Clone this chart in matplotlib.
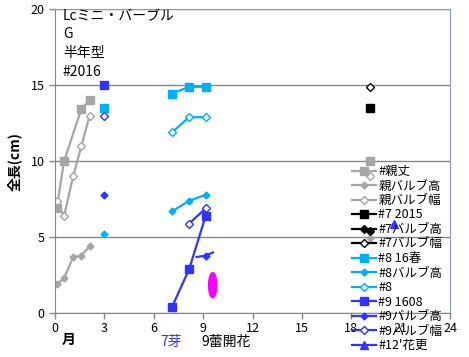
import numpy as np
import matplotlib
matplotlib.use("Agg")
import matplotlib.pyplot as plt
from matplotlib.patches import Ellipse

plt.rcParams['font.family'] = ['Noto Sans CJK JP', 'DejaVu Sans']

nan = np.nan
# parent plant
oya_x = [0.1, 0.55, 1.1, 1.6, 2.1, nan, 19.15]
oya_len_x = [0.1, 0.55, 1.6, 2.1, nan, 19.15]
oya_len_v = [6.9, 10.0, 13.45, 14.0, nan, 10.0]
oya_h = [1.9, 2.3, 3.7, 3.8, 4.4, nan, 4.95]
oya_w = [7.4, 6.4, 9.0, 11.0, 13.0, nan, 9.0]

# #7
s7_x = [19.15]
s7_len = [13.5]
s7_h = [5.4]
s7_w = [14.9]

# #8
s8_x = [3.0, nan, 7.1, 8.15, 9.15]
s8_len = [13.5, nan, 14.45, 14.9, 14.9]
s8_h = [5.2, nan, 6.7, 7.4, 7.8]
s8_w = [nan, nan, 11.9, 12.9, 12.9]

# #9
s9_len_x = [3.0, nan, 7.1, 8.15, 9.15]
s9_len = [15.0, nan, 0.4, 2.9, 6.4]
s9_h_x = [3.0, nan, 8.6, 9.15, 9.6]
s9_h = [7.8, nan, 3.7, 3.8, 4.0]
s9_w_x = [3.0, nan, 8.15, 9.15]
s9_w = [13.0, nan, 5.9, 6.9]

# #12'
s12_x = [20.6]
s12_len = [5.9]

GRAY = '#a6a6a6'
LBLUE = '#00b0f0'
BLUE = '#3333ff'

fig = plt.figure(figsize=(4.69, 3.57), dpi=100)
ax = fig.add_axes([0.1173, 0.1224, 0.8422, 0.8516])

lw = 1.6
sq = 5.5
ax.plot(oya_len_x, oya_len_v, color=GRAY, marker='s', ms=sq, lw=lw, label='#親丈')
ax.plot(oya_x, oya_h, color=GRAY, marker='D', ms=3.5, lw=lw, label='親バルブ高')
ax.plot(oya_x, oya_w, color=GRAY, marker='D', ms=4, mfc='white', lw=lw, label='親バルブ幅')
ax.plot(s7_x, s7_len, color='black', marker='s', ms=sq, lw=lw, label='#7 2015')
ax.plot(s7_x, s7_h, color='black', marker='D', ms=4, lw=lw, label='#7バルブ高')
ax.plot(s7_x, s7_w, color='black', marker='D', ms=4, mfc='white', lw=lw, label='#7バルブ幅')
ax.plot(s8_x, s8_len, color=LBLUE, marker='s', ms=sq, lw=lw, label='#8 16春')
ax.plot(s8_x, s8_h, color=LBLUE, marker='D', ms=3.5, lw=lw, label='#8バルブ高')
ax.plot(s8_x, s8_w, color=LBLUE, marker='D', ms=4, mfc='white', lw=lw, label='#8')
ax.plot(s9_len_x, s9_len, color=BLUE, marker='s', ms=sq, lw=lw, label='#9 1608')
ax.plot(s9_h_x, s9_h, color=BLUE, marker='D', ms=3.5, lw=lw, markevery=[0, 3], label='#9バルブ高')
ax.plot(s9_w_x, s9_w, color=BLUE, marker='D', ms=4, mfc='white', lw=lw, label='#9バルブ幅')
ax.plot(s12_x, s12_len, color=BLUE, marker='^', ms=6, lw=lw, label="#12'花更")

ax.add_patch(Ellipse((9.58, 1.85), 0.5, 1.65, color='#ff00ff', zorder=5))

ax.set_xlim(0, 24)
ax.set_ylim(0, 20)
ax.set_xticks(np.arange(0, 25, 3))
ax.set_yticks(np.arange(0, 21, 5))
ax.yaxis.grid(True, color='#868686', lw=1)
ax.set_axisbelow(True)
for s in ['top', 'right']:
    ax.spines[s].set_color('#8a9ab8')
for s in ['left', 'bottom']:
    ax.spines[s].set_color('#868686')
ax.tick_params(axis='both', labelsize=9, colors='#868686', labelcolor='black', length=4, width=1)
ax.tick_params(axis='x', pad=2)

ax.set_ylabel('全長(cm)', fontsize=10, fontweight='bold', labelpad=6)

fig.text(0.134, 1 - 16 / 357, 'Lcミニ・バーブル', fontsize=10, va='center')
fig.text(0.134, 1 - 34 / 357, 'G', fontsize=10, va='center')
fig.text(0.134, 1 - 53 / 357, '半年型', fontsize=10, va='center')
fig.text(0.134, 1 - 72 / 357, '#2016', fontsize=10, va='center')

fig.text(62 / 469, 1 - 340 / 357, '月', fontsize=10, fontweight='bold', va='center')
fig.text(171 / 469, 1 - 342 / 357, '7芽', fontsize=10, color=BLUE, va='center', ha='center')
fig.text(226 / 469, 1 - 342 / 357, '9蕾開花', fontsize=10, va='center', ha='center')

leg = ax.legend(loc='upper left', bbox_to_anchor=(352 / 469, 1 - 165 / 357),
                bbox_transform=fig.transFigure, frameon=False, fontsize=9,
                handlelength=1.9, handletextpad=0.2, labelspacing=0.12,
                borderpad=0, borderaxespad=0)
fig.savefig('out.png', dpi=100)
